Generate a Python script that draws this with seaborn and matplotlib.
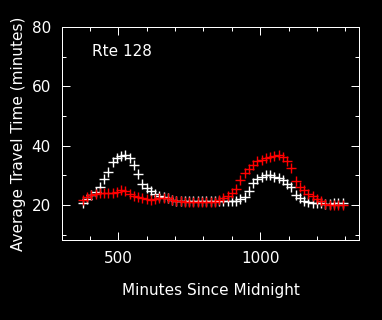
import matplotlib
matplotlib.use('Agg')
import matplotlib.pyplot as plt
import pandas as pd
import seaborn as sns
from matplotlib.ticker import MultipleLocator

# minutes since midnight (15 minute sampling)
minutes = [375, 390, 405, 420, 435, 450, 465, 480, 495, 510, 525, 540, 555, 570,
           585, 600, 615, 630, 645, 660, 675, 690, 705, 720, 735, 750, 765, 780,
           795, 810, 825, 840, 855, 870, 885, 900, 915, 930, 945, 960, 975, 990,
           1005, 1020, 1035, 1050, 1065, 1080, 1095, 1110, 1125, 1140, 1155, 1170,
           1185, 1200, 1215, 1230, 1245, 1260, 1275, 1290]

# white series
travel_white = [20.8, 22.0, 23.3, 24.3, 26.0, 28.8, 31.2, 34.5, 35.8, 36.5, 36.7, 35.8,
                33.6, 30.6, 27.0, 25.6, 24.6, 23.8, 23.2, 22.7, 22.2, 21.8, 21.5, 21.3,
                21.2, 21.3, 21.2, 21.3, 21.4, 21.4, 21.5, 21.5, 21.4, 21.3, 21.2, 21.2,
                21.4, 21.9, 22.8, 24.8, 27.5, 28.6, 29.6, 30.2, 30.0, 29.6, 29.2, 28.4,
                27.2, 25.9, 23.5, 22.2, 21.3, 20.9, 20.7, 20.6, 20.6, 20.5, 20.5, 20.6,
                20.6, 20.6]

# red series
travel_red = [21.6, 22.7, 23.5, 23.8, 24.0, 24.0, 24.1, 24.2, 24.5, 25.0, 24.6, 23.8,
              23.1, 22.6, 22.2, 21.9, 21.8, 22.1, 22.4, 22.4, 22.2, 21.8, 21.5, 21.2,
              21.0, 20.9, 20.9, 20.9, 20.9, 20.9, 21.0, 21.1, 21.6, 22.3, 23.0, 24.0,
              25.5, 28.4, 30.8, 32.2, 33.6, 34.7, 35.3, 35.8, 36.2, 36.6, 36.9, 36.3,
              34.8, 32.6, 28.0, 26.0, 24.9, 23.8, 22.9, 22.0, 21.2, 20.3, 20.1, 20.0,
              20.0, 20.0]

df = pd.DataFrame({'minutes': minutes, 'white': travel_white, 'red': travel_red})

sns.set_style('ticks')
plt.rcParams['font.family'] = ['DejaVu Sans']
plt.rcParams['lines.antialiased'] = False
plt.rcParams['patch.antialiased'] = False

fig = plt.figure(figsize=(3.82, 3.20), dpi=100, facecolor='black')
ax = fig.add_axes([0.1623, 0.25, 0.7775, 0.6656])
ax.set_facecolor('black')

sns.scatterplot(data=df, x='minutes', y='white', marker='+', color='white',
                s=48, linewidth=1, antialiased=False, ax=ax, zorder=2)
sns.scatterplot(data=df, x='minutes', y='red', marker='+', color='red',
                s=48, linewidth=1, antialiased=False, ax=ax, zorder=3)

ax.set_xlim(302, 1348)
ax.set_ylim(8.2, 80)
ax.xaxis.set_major_locator(MultipleLocator(500))
ax.xaxis.set_minor_locator(MultipleLocator(100))
ax.yaxis.set_major_locator(MultipleLocator(20))
ax.yaxis.set_minor_locator(MultipleLocator(10))

for side in ax.spines.values():
    side.set_color('white')
    side.set_linewidth(0.72)
    side.set_antialiased(False)

ax.tick_params(which='both', direction='in', top=True, right=True,
               colors='white', width=0.72, labelsize=11)
ax.tick_params(which='major', length=6)
ax.tick_params(which='minor', length=3)
ax.tick_params(axis='x', pad=8)
ax.tick_params(axis='y', pad=8)

ax.set_xlabel('Minutes Since Midnight', color='white', fontsize=11, labelpad=12)
ax.set_ylabel('Average Travel Time (minutes)', color='white', fontsize=11, labelpad=4)

ax.text(0.10, 0.885, 'Rte 128', transform=ax.transAxes, color='white',
        fontsize=11, va='center', ha='left')

fig.savefig('out.png', dpi=100, facecolor='black')
